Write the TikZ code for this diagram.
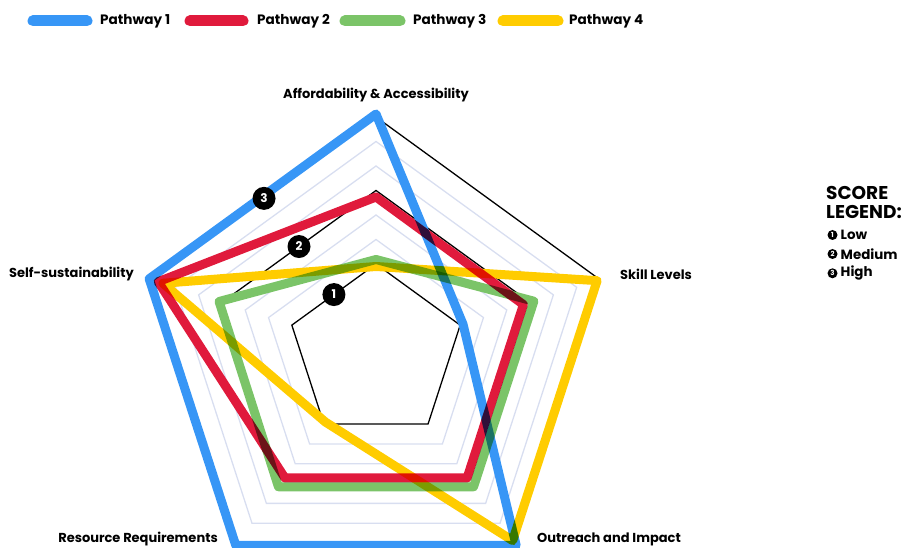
\documentclass[tikz,border=0pt]{standalone}
\usepackage{fontspec}
\setmainfont{Poppins}
\definecolor{pblue}{HTML}{3796F6}
\definecolor{pred}{HTML}{E01A3C}
\definecolor{pgreen}{HTML}{7BC468}
\definecolor{pyellow}{HTML}{FFCC00}
\definecolor{gridgrey}{HTML}{D8DEF0}
\newcommand{\pentapath}[2]{\draw[#1] (90:#2) -- (18:#2) -- (-54:#2) -- (-126:#2) -- (162:#2) -- cycle;}
\tikzset{
  gridline/.style={draw=gridgrey, line width=1.3pt, line join=miter},
  levelline/.style={draw=black, line width=1.3pt, line join=miter},
  pathline/.style={line width=9pt, line join=round, line cap=round},
  legbar/.style={line width=11pt, line cap=round},
  legtext/.style={font=\bfseries\fontsize{13.6}{14}\selectfont, anchor=west, inner sep=0pt},
  axlabel/.style={font=\bfseries\fontsize{13}{14}\selectfont, inner sep=0pt},
  scorecirc/.style={circle, fill=black, minimum size=23pt, inner sep=0pt, text=white, font=\bfseries\fontsize{12}{12}\selectfont},
  smallcirc/.style={circle, fill=black, minimum size=10pt, inner sep=0pt, text=white, font=\bfseries\fontsize{7}{7}\selectfont},
  sltext/.style={font=\bfseries\fontsize{13.4}{14}\selectfont, anchor=west, inner sep=0pt},
  bigtext/.style={font=\bfseries\fontsize{18.5}{19}\selectfont, anchor=west, inner sep=0pt}
}
\begin{document}
\begin{tikzpicture}[x=1pt,y=1pt]
\useasboundingbox (0,0) rectangle (910,548);
% legend
\coordinate (b1a) at (33,527); \coordinate (b1b) at (87,527);
\coordinate (b2a) at (190,527); \coordinate (b2b) at (243,527);
\coordinate (b3a) at (345,527); \coordinate (b3b) at (400,527);
\coordinate (b4a) at (503,527); \coordinate (b4b) at (558,527);
\draw[legbar, pblue] (b1a) -- (b1b);
\draw[legbar, pred] (b2a) -- (b2b);
\draw[legbar, pgreen] (b3a) -- (b3b);
\draw[legbar, pyellow] (b4a) -- (b4b);
\node[legtext] (l1) at (100,527) {Pathway 1};
\node[legtext] (l2) at (257,527) {Pathway 2};
\node[legtext] (l3) at (413,527) {Pathway 3};
\node[legtext] (l4) at (569,527) {Pathway 4};
% chart
\begin{scope}[shift={(376,195.5)}]
  \pentapath{gridline}{113}
  \pentapath{gridline}{137.5}
  \pentapath{gridline}{186.5}
  \pentapath{gridline}{211}
  \pentapath{levelline}{88.5}
  \pentapath{levelline}{162}
  \pentapath{levelline}{235.5}
  \begin{scope}[blend group=multiply]
    \draw[pathline, pgreen] (90:93) -- (18:166) -- (-54:166) -- (-126:166) -- (162:165) -- cycle;
    \draw[pathline, pyellow] (90:86) -- (18:232.5) -- (-54:232.5) -- (-126:86) -- (162:224) -- cycle;
    \draw[pathline, pred] (90:155.5) -- (18:155) -- (-54:155) -- (-126:155) -- (162:229) -- cycle;
    \draw[pathline, pblue] (90:238.5) -- (18:91.5) -- (-54:238.5) -- (-126:238.5) -- (162:238.5) -- cycle;
  \end{scope}
  \node[scorecirc] (s3) at (126:190.5) {3};
  \node[scorecirc] (s2) at (126:131) {2};
  \node[scorecirc] (s1) at (126:71.6) {1};
\end{scope}
% axis labels
\node[axlabel, anchor=center] (aff) at (376,453) {Affordability \& Accessibility};
\node[axlabel, anchor=west] (skl) at (620,274) {Skill Levels};
\node[axlabel, anchor=east] (self) at (134,274) {Self-sustainability};
\node[axlabel, anchor=east] (res) at (218,9) {Resource Requirements};
\node[axlabel, anchor=west] (out) at (537,9) {Outreach and Impact};
% score legend
\node[bigtext] (sc1) at (826,355.3) {SCORE};
\node[bigtext] (sc2) at (826,336) {LEGEND:};
\node[smallcirc] (c1) at (832.5,313) {1};
\node[sltext] (t1) at (840.5,313) {Low};
\node[smallcirc] (c2) at (832.5,294) {2};
\node[sltext] (t2) at (840.5,294) {Medium};
\node[smallcirc] (c3) at (832.5,274.7) {3};
\node[sltext] (t3) at (840.5,274.7) {High};
\end{tikzpicture}
\end{document}
